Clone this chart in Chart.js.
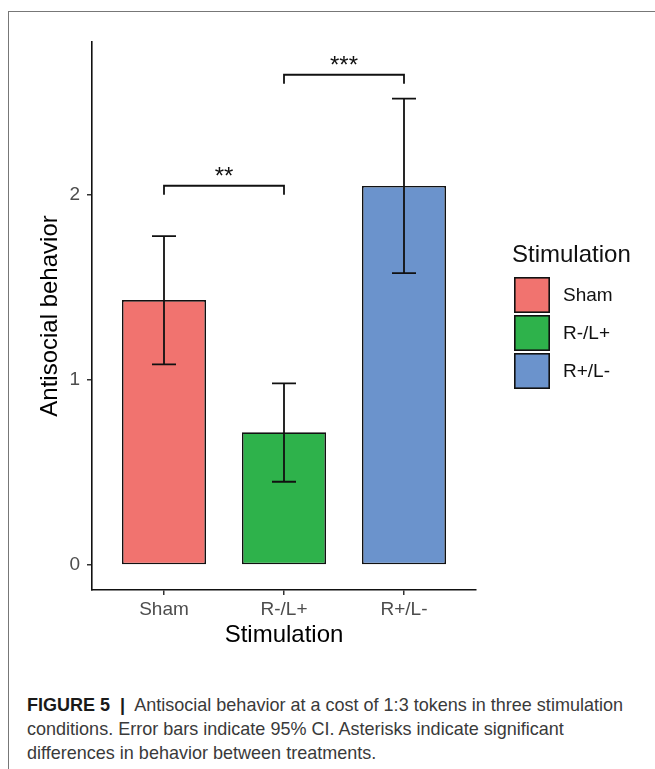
<!DOCTYPE html>
<html>
<head>
<meta charset="utf-8">
<script src="https://cdn.jsdelivr.net/npm/chart.js@4.4.1/dist/chart.umd.min.js"></script>
<style>
  html, body { margin: 0; padding: 0; background: #fff; }
  body { width: 655px; height: 769px; position: relative; overflow: hidden; }
  #frame { position: absolute; left: 8px; top: 11px; right: -4px; bottom: -4px;
           border-top: 1px solid #777; border-left: 1px solid #777; }
  #wrap { position: absolute; left: 0; top: 0; width: 655px; height: 660px; }
  #caption { position: absolute; left: 27px; top: 693px; white-space: nowrap;
             font-family: "Liberation Sans", Arial, sans-serif; transform-origin: 0 0;
             font-size: 18.5px; line-height: 24px; color: #3a3a3a; }
  #caption b { color: #1a1a1a; }
  #caption span { display: inline-block; }
</style>
</head>
<body>
<div id="frame"></div>
<div id="wrap"><canvas id="chart" width="655" height="660"></canvas></div>
<div id="caption"><span id="line1"><b>FIGURE 5 &nbsp;|</b>&nbsp; Antisocial behavior at a cost of 1:3 tokens in three stimulation</span><br><span>conditions. Error bars indicate 95% CI. Asterisks indicate significant</span><br><span>differences in behavior between treatments.</span></div>

<script>
// values
const categories = ['Sham', 'R-/L+', 'R+/L-'];
const means  = [1.432, 0.717, 2.049];
const ciLow  = [1.085, 0.450, 1.578];
const ciHigh = [1.778, 0.982, 2.521];
const colors = ['#F1736F', '#2EB24B', '#6B93CC'];
const yTicks = [0, 1, 2];

// significance brackets: [from, to], height, label
const bracketPairs  = [[0, 1], [1, 2]];
const bracketY      = [2.050, 2.650];
const bracketLabels = ['**', '***'];
const bracketDrop = 0.048;
const capHalf = 0.1;

const FONT = '"Liberation Sans", Arial, sans-serif';
Chart.defaults.font.family = FONT;

// caption is set in a condensed face in the original; squeeze to the same line width
const line1 = document.getElementById('line1');
const squeeze = 596 / line1.getBoundingClientRect().width;
document.getElementById('caption').style.transform = `scaleX(${squeeze})`;

const extras = {
    id: 'extras',
    afterDatasetsDraw(chart) {
        const { ctx, scales: { x, y } } = chart;
        ctx.save();
        ctx.strokeStyle = '#111';
        ctx.lineWidth = 1.8;

        // error bars
        categories.forEach((c, i) => {
            const px = x.getPixelForValue(i + 1);
            const hw = x.getPixelForValue(i + 1 + capHalf) - px;
            const top = y.getPixelForValue(ciHigh[i]);
            const bot = y.getPixelForValue(ciLow[i]);
            ctx.beginPath();
            ctx.moveTo(px, top); ctx.lineTo(px, bot);
            ctx.moveTo(px - hw, top); ctx.lineTo(px + hw, top);
            ctx.moveTo(px - hw, bot); ctx.lineTo(px + hw, bot);
            ctx.stroke();
        });

        // brackets
        ctx.fillStyle = '#111';
        ctx.font = '24px ' + FONT;
        ctx.textAlign = 'center';
        ctx.textBaseline = 'alphabetic';
        bracketPairs.forEach(([a, b], i) => {
            const x1 = x.getPixelForValue(a + 1);
            const x2 = x.getPixelForValue(b + 1);
            const yy = y.getPixelForValue(bracketY[i]);
            const yd = y.getPixelForValue(bracketY[i] - bracketDrop);
            ctx.beginPath();
            ctx.moveTo(x1, yd); ctx.lineTo(x1, yy); ctx.lineTo(x2, yy); ctx.lineTo(x2, yd);
            ctx.stroke();
            ctx.fillText(bracketLabels[i], (x1 + x2) / 2, yy - 2);
        });
        ctx.restore();
    },
    afterDraw(chart) {
        // legend at the right
        const { ctx } = chart;
        ctx.save();
        ctx.fillStyle = '#111';
        ctx.textAlign = 'left';
        ctx.textBaseline = 'alphabetic';
        ctx.font = '24px ' + FONT;
        ctx.fillText('Stimulation', 512, 262);
        ctx.font = '19px ' + FONT;
        ctx.textBaseline = 'middle';
        categories.forEach((c, i) => {
            const top = 277 + i * 38;
            ctx.fillStyle = colors[i];
            ctx.fillRect(514, top, 36, 36);
            ctx.strokeStyle = '#111';
            ctx.lineWidth = 1.6;
            ctx.strokeRect(514.8, top + 0.8, 34.4, 34.4);
            ctx.fillStyle = '#111';
            ctx.fillText(c, 563, top + 19);
        });
        ctx.restore();
    }
};

new Chart(document.getElementById('chart'), {
    type: 'bar',
    data: {
        datasets: [{
            data: categories.map((c, i) => ({ x: i + 1, y: means[i] })),
            backgroundColor: colors,
            borderColor: '#111',
            borderWidth: 1.6,
            borderSkipped: false,
            barPercentage: 0.7,
            categoryPercentage: 1.0
        }]
    },
    options: {
        responsive: false,
        animation: false,
        devicePixelRatio: 1,
        layout: { padding: { top: 42, right: 179, left: 0, bottom: 0 } },
        plugins: { legend: { display: false }, tooltip: { enabled: false } },
        scales: {
            x: {
                type: 'linear',
                min: 0.4,
                max: 3.6,
                offset: false,
                afterBuildTicks: s => { s.ticks = categories.map((c, i) => ({ value: i + 1 })); },
                afterFit: s => { s.height = 70; },
                ticks: {
                    callback: v => categories[v - 1],
                    color: '#4d4d4d',
                    font: { size: 19 },
                    padding: 3,
                    maxRotation: 0,
                    autoSkip: false
                },
                grid: { offset: false, drawOnChartArea: false, drawTicks: true, tickLength: 5, color: '#333', lineWidth: 1.5 },
                border: { display: true, color: '#111', width: 1.6 },
                title: { display: true, text: 'Stimulation', color: '#000', font: { size: 24 }, padding: { top: 0, bottom: 10.6 } }
            },
            y: {
                min: -0.135,
                max: 2.827,
                afterBuildTicks: s => { s.ticks = yTicks.map(v => ({ value: v })); },
                afterFit: s => { s.width = 92; },
                ticks: { color: '#4d4d4d', font: { size: 19 }, padding: 7 },
                grid: { drawOnChartArea: false, drawTicks: true, tickLength: 5, color: '#333', lineWidth: 1.5 },
                border: { display: true, color: '#111', width: 1.6 },
                title: { display: true, text: 'Antisocial behavior', color: '#000', font: { size: 24 }, padding: { top: 36, bottom: 0 } }
            }
        }
    },
    plugins: [extras]
});
</script>
</body>
</html>
